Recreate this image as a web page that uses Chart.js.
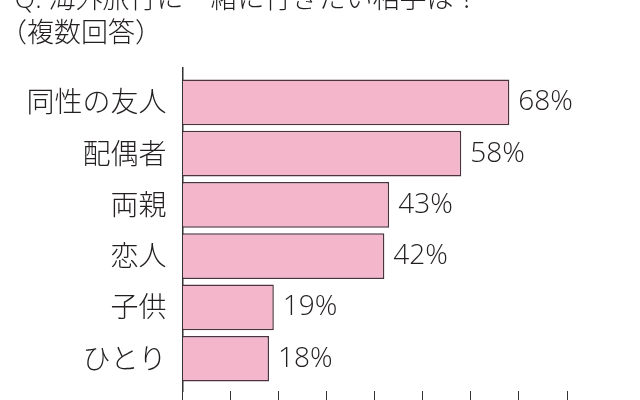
<!DOCTYPE html>
<html><head><meta charset="utf-8">
<script src="https://cdn.jsdelivr.net/npm/chart.js@4.4.0/dist/chart.umd.min.js"></script>
<style>
html,body{margin:0;padding:0;overflow:hidden;background:#fff;}
#wrap{position:relative;width:640px;height:430px;}
</style></head><body>
<div id="wrap"><canvas id="c"></canvas></div>
<script>
const titleLine1 = 'Q. 海外旅行に一緒に行きたい相手は？';
const titleLine2 = '（複数回答）';
const categories = ['同性の友人', '配偶者', '両親', '恋人', '子供', 'ひとり'];
const percentValues = [68, 58, 43, 42, 19, 18];
const xTickValues = [0, 10, 20, 30, 40, 50, 60, 70, 80];
const valueSuffix = '%';

const FONT = "'Open Sans', 'Noto Sans CJK JP', sans-serif";
const TEXT = '#231f20';

const titlePlugin = {
  id: 'titleLines',
  afterDraw(chart) {
    const ctx = chart.ctx;
    ctx.save();
    ctx.fillStyle = TEXT;
    ctx.font = '300 27px ' + FONT;
    ctx.textAlign = 'left';
    ctx.textBaseline = 'alphabetic';
    ctx.fillText(titleLine1, 14.5, 8);
    ctx.fillText(titleLine2, 0, 42);
    ctx.restore();
  }
};

const valueLabelPlugin = {
  id: 'valueLabels',
  afterDatasetsDraw(chart) {
    const ctx = chart.ctx;
    const meta = chart.getDatasetMeta(0);
    ctx.save();
    ctx.fillStyle = TEXT;
    ctx.font = '300 28px ' + FONT;
    ctx.textAlign = 'left';
    ctx.textBaseline = 'middle';
    meta.data.forEach((bar, i) => {
      ctx.fillText(percentValues[i] + valueSuffix, bar.x + 9, bar.y);
    });
    ctx.restore();
  }
};

new Chart(document.getElementById('c'), {
  type: 'bar',
  data: {
    datasets: [{
      data: percentValues.map((v, i) => ({ x: v, y: i })),
      backgroundColor: '#f4b6ca',
      borderColor: '#4b3340',
      borderWidth: 1.5,
      borderSkipped: 'start',
      barPercentage: 0.89,
      categoryPercentage: 1
    }]
  },
  options: {
    indexAxis: 'y',
    responsive: true,
    maintainAspectRatio: false,
    animation: false,
    layout: { padding: { top: 68, right: 73, bottom: 24, left: 0 } },
    plugins: { legend: { display: false }, tooltip: { enabled: false }, title: { display: false } },
    scales: {
      x: {
        type: 'linear', min: 0, max: 80, position: 'bottom',
        afterBuildTicks: s => { s.ticks = xTickValues.map(v => ({ value: v })); },
        ticks: { display: false },
        grid: { display: true, drawOnChartArea: false, drawTicks: true, tickLength: 15, color: '#333', lineWidth: 1 },
        border: { display: false }
      },
      y: {
        type: 'linear', reverse: true, offset: false, min: -0.67, max: 5.63,
        afterBuildTicks: s => { s.ticks = categories.map((_, i) => ({ value: i })); },
        afterFit: s => { s.width = 182.5; },
        ticks: { callback: v => categories[v], font: { size: 28, weight: 300, family: FONT }, color: TEXT, padding: 16, labelOffset: 2, autoSkip: false },
        grid: { display: false, drawTicks: false, offset: false },
        border: { display: true, color: '#333', width: 1.5 }
      }
    }
  },
  plugins: [titlePlugin, valueLabelPlugin]
});
</script>
</body></html>
